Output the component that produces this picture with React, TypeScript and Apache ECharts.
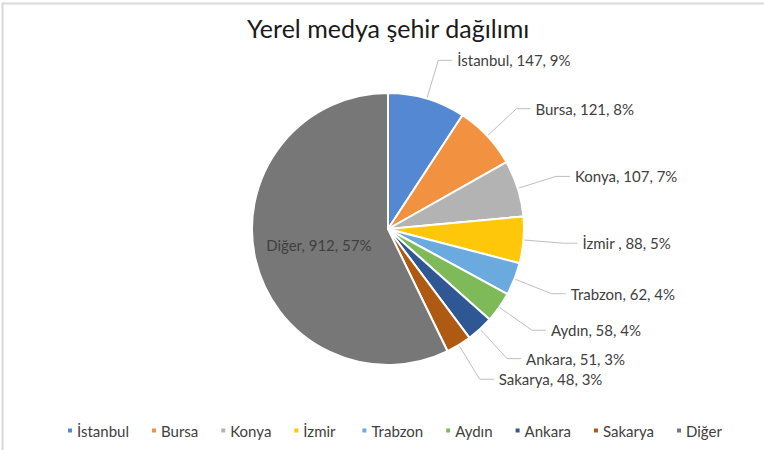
import React, { useEffect, useRef } from "react";
import * as echarts from "echarts";

const categories = ["İstanbul", "Bursa", "Konya", "İzmir ", "Trabzon", "Aydın", "Ankara", "Sakarya", "Diğer"];
const values = [147, 121, 107, 88, 62, 58, 51, 48, 912];
const percentLabels = ["9%", "8%", "7%", "5%", "4%", "4%", "3%", "3%", "57%"];
const colors = ["#5588d2", "#f2913f", "#b3b3b3", "#ffc709", "#6aaadf", "#7fba58", "#2f5794", "#ae5a13", "#777777"];

const FONT = "Lato, 'Open Sans', sans-serif";

export default function App() {
  const ref = useRef<HTMLDivElement>(null);
  useEffect(() => {
    if (!ref.current) return;
    const chart = echarts.init(ref.current, undefined, { renderer: "svg" });
    const data = categories.map((name, i) => {
      const item: any = { name, value: values[i], itemStyle: { color: colors[i] } };
      if (name === "Diğer") {
        item.label = { position: "inside" };
        item.labelLine = { show: false };
      }
      return item;
    });
    chart.setOption({
      animation: false,
      backgroundColor: "#ffffff",
      title: {
        text: "Yerel medya şehir dağılımı",
        left: 242,
        top: 10,
        textStyle: { fontFamily: FONT, fontSize: 25, fontWeight: "normal", color: "#1a1a1a" },
      },
      graphic: [
        {
          type: "rect",
          shape: { x: 2.5, y: 3.5, width: 800, height: 500 },
          style: { fill: "none", stroke: "#d9d9d9", lineWidth: 2 },
          silent: true,
        },
      ],
      legend: {
        bottom: 7,
        left: 61,
        icon: "rect",
        itemWidth: 6,
        itemHeight: 6,
        itemGap: 21,
        data: categories,
        textStyle: { fontFamily: FONT, fontSize: 15, color: "#404040", padding: [0, 0, 0, -1] },
      },
      series: [
        {
          type: "pie",
          center: [388, 229],
          radius: 136,
          startAngle: 90,
          clockwise: true,
          itemStyle: { borderColor: "#ffffff", borderWidth: 2 },
          label: {
            show: true,
            position: "outside",
            formatter: (p: any) => `${p.name}, ${p.value}, ${percentLabels[p.dataIndex]}`,
            color: "#404040",
            fontFamily: FONT,
            fontSize: 15,
          },
          labelLine: { show: true, length: 40, length2: 14, lineStyle: { color: "#bfbfbf", width: 1 } },
          data,
        },
      ],
    });
    return () => chart.dispose();
  }, []);
  return <div ref={ref} style={{ position: "fixed", left: 0, top: 0, width: 764, height: 450 }} />;
}
